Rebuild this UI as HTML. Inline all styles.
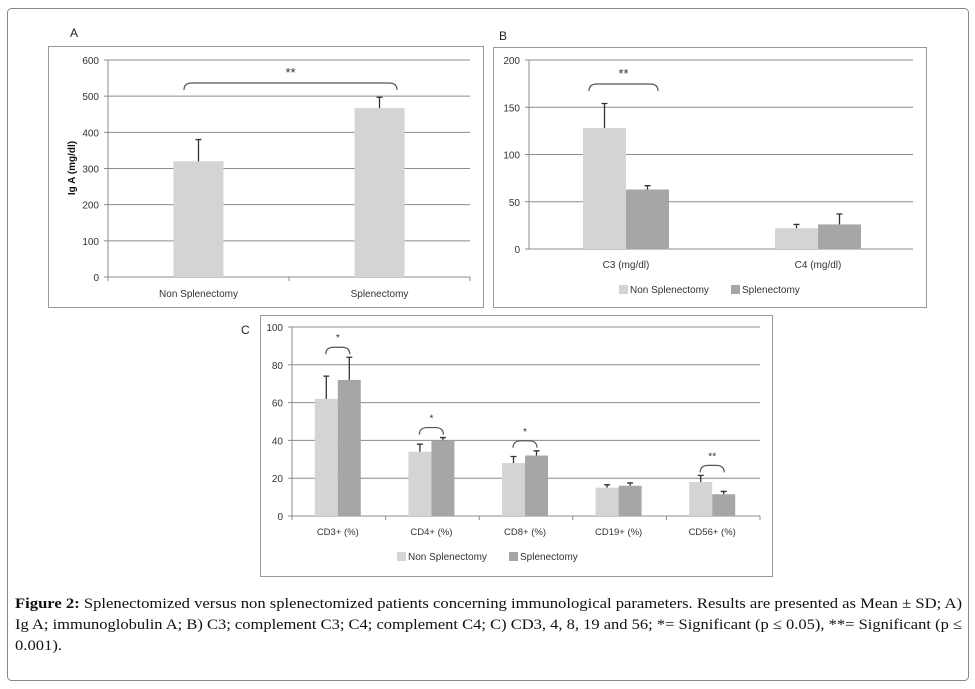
<!DOCTYPE html>
<html><head><meta charset="utf-8"><style>
body{margin:0;background:#fff;}
svg{display:block;font-family:"Liberation Sans",sans-serif;}
</style></head><body>
<svg id="fig" width="975" height="689" viewBox="0 0 975 689">
<rect x="7.5" y="8.5" width="961" height="672" rx="4" fill="none" stroke="#888"/>
<g id="gA"></g>
<g id="gB"></g>
<g id="gC"></g>
<g font-family="'Liberation Serif',serif" font-size="15" fill="#111">
<text x="15" y="608" textLength="947" lengthAdjust="spacingAndGlyphs"><tspan font-weight="bold">Figure 2:</tspan> Splenectomized versus non splenectomized patients concerning immunological parameters. Results are presented as Mean ± SD; A)</text>
<text x="15" y="629" textLength="947" lengthAdjust="spacingAndGlyphs">Ig A; immunoglobulin A; B) C3; complement C3; C4; complement C4; C) CD3, 4, 8, 19 and 56; *= Significant (p ≤ 0.05), **= Significant (p ≤</text>
<text x="15" y="650" textLength="47" lengthAdjust="spacingAndGlyphs">0.001).</text>
</g>
</svg>
<script>
// Chart A data
const aCategories=["Non Splenectomy","Splenectomy"];
const aValues=[320,467];
const aErrors=[60,30];
const aTicks=[0,100,200,300,400,500,600];
// Chart B data
const bCategories=["C3 (mg/dl)","C4 (mg/dl)"];
const bNon=[128,22];
const bNonErr=[26,4];
const bSpl=[63,26];
const bSplErr=[4,11];
const bTicks=[0,50,100,150,200];
// Chart C data
const cCategories=["CD3+ (%)","CD4+ (%)","CD8+ (%)","CD19+ (%)","CD56+ (%)"];
const cNon=[62,34,28,15,18];
const cNonErr=[12,4,3.5,1.5,3.5];
const cSpl=[72,40,32,16,11.5];
const cSplErr=[12,1.5,2.5,1.5,1.5];
const cTicks=[0,20,40,60,80,100];
const cSig=["*","*","*","","**"];

const NS="http://www.w3.org/2000/svg";
function mk(p,tag,at,txt){const e=document.createElementNS(NS,tag);for(const k in at)e.setAttribute(k,at[k]);if(txt!==undefined)e.textContent=txt;p.appendChild(e);return e;}
const C1="#d4d4d4",C2="#a6a6a6",GRID="#8c8c8c",TXT="#333";

function axes(g,x0,x1,yTop,y0,max,ticks,ncat){
  const ys=v=>y0-(v/max)*(y0-yTop);
  ticks.forEach(t=>{
    if(t>0){const l=mk(g,'line',{x1:x0,x2:x1,y1:ys(t),y2:ys(t),stroke:GRID,'stroke-width':1});
    
    }
    const tx=mk(g,'text',{x:x0-9,y:ys(t)+4,'text-anchor':'end','font-size':10,fill:TXT},String(t));
    
    
    const tk=mk(g,'line',{x1:x0-4,x2:x0,y1:ys(t),y2:ys(t),stroke:GRID});
    
    
  });
  const ya=mk(g,'line',{x1:x0,x2:x0,y1:yTop,y2:y0,stroke:GRID});
  
  
  const xa=mk(g,'line',{x1:x0,x2:x1,y1:y0,y2:y0,stroke:GRID});
  
  
  if(ncat>0){
    const w=(x1-x0)/ncat;
    for(let i=0;i<=ncat;i++){const t=mk(g,'line',{x1:x0+i*w,x2:x0+i*w,y1:y0,y2:y0+4,stroke:GRID});
      
      }
  }
  return ys;
}
function bar(g,x,w,v,err,ys,y0,col,name){
  const r=mk(g,'rect',{x:x,y:ys(v),width:w,height:y0-ys(v),fill:col});
  
  
  const cx=x+w/2;
  const e=mk(g,'path',{d:`M${cx} ${ys(v)}V${ys(v+err)}M${cx-3} ${ys(v+err)}H${cx+3}`,stroke:'#333','stroke-width':1.3,fill:'none'});
  
  
}
function bracket(g,xa,xb,y,label,fs){
  const p=mk(g,'path',{d:`M${xa} ${y+7}Q${xa} ${y} ${xa+8} ${y}H${xb-8}Q${xb} ${y} ${xb} ${y+7}`,stroke:'#555',fill:'none','stroke-width':1.2});
  
  
  const t=mk(g,'text',{x:(xa+xb)/2,y:y-6,'text-anchor':'middle','font-size':fs,fill:'#333'},label);
  
  
}
function legend(g,x,y){
  const a=mk(g,'rect',{x:x,y:y-8,width:9,height:9,fill:C1});
  
  
  const at=mk(g,'text',{x:x+11,y:y,'font-size':10,fill:TXT},'Non Splenectomy');
  
  
  const b=mk(g,'rect',{x:x+112,y:y-8,width:9,height:9,fill:C2});
  
  
  const bt=mk(g,'text',{x:x+123,y:y,'font-size':10,fill:TXT},'Splenectomy');
  
  
}
function frame(g,x,y,w,h,name){const r=mk(g,'rect',{x:x+.5,y:y+.5,width:w,height:h,fill:'none',stroke:'#999'});
  
  }
function panelLabel(g,x,y,s){const t=mk(g,'text',{x:x,y:y,'font-size':12,fill:'#222'},s);
  
  }

// Chart A
(function(){
  const g=document.getElementById('gA');
  panelLabel(g,70,37,'A');
  frame(g,48,46,435,261,'chart-a-frame');
  const x0=108,x1=470,y0=277,yT=60;
  const ys=axes(g,x0,x1,yT,y0,600,aTicks,aCategories.length);
  const w=(x1-x0)/aCategories.length;
  aCategories.forEach((c,i)=>{
    const cx=x0+w*(i+0.5);
    bar(g,cx-25,50,aValues[i],aErrors[i],ys,y0,C1,'bar-a-'+i);
    const t=mk(g,'text',{x:cx,y:297,'text-anchor':'middle','font-size':10,fill:TXT},c);
    
    
  });
  bracket(g,184,397,83,'**',13);
  const yl=mk(g,'text',{x:0,y:0,transform:'translate(75,168) rotate(-90)','text-anchor':'middle','font-size':10,'font-weight':'bold',fill:'#111'},'Ig A (mg/dl)');
  
  
})();

// Chart B
(function(){
  const g=document.getElementById('gB');
  panelLabel(g,499,40,'B');
  frame(g,493,47,433,260,'chart-b-frame');
  const x0=529,x1=913,y0=249,yT=60;
  const ys=axes(g,x0,x1,yT,y0,200,bTicks,0);
  const w=(x1-x0)/bCategories.length;
  bCategories.forEach((c,i)=>{
    const cx=x0+w*(i+0.5)+1;
    bar(g,cx-43,43,bNon[i],bNonErr[i],ys,y0,C1,'bar-b-non-'+i);
    bar(g,cx,43,bSpl[i],bSplErr[i],ys,y0,C2,'bar-b-spl-'+i);
    const t=mk(g,'text',{x:cx,y:268,'text-anchor':'middle','font-size':10,fill:TXT},c);
    
    
  });
  bracket(g,589,658,84,'**',13);
  legend(g,619,293);
})();

// Chart C
(function(){
  const g=document.getElementById('gC');
  panelLabel(g,241,334,'C');
  frame(g,260,315,512,261,'chart-c-frame');
  const x0=292,x1=760,y0=516,yT=327;
  const ys=axes(g,x0,x1,yT,y0,100,cTicks,cCategories.length);
  const w=(x1-x0)/cCategories.length;
  cCategories.forEach((c,i)=>{
    const cx=x0+w*(i+0.5)-1;
    bar(g,cx-23,23,cNon[i],cNonErr[i],ys,y0,C1,'bar-c-non-'+i);
    bar(g,cx,23,cSpl[i],cSplErr[i],ys,y0,C2,'bar-c-spl-'+i);
    const t=mk(g,'text',{x:cx,y:535,'text-anchor':'middle','font-size':9.5,fill:TXT},c);
    
    
    if(cSig[i]){
      const top=Math.max(cNon[i]+cNonErr[i],cSpl[i]+cSplErr[i]);
      bracket(g,cx-12,cx+12,ys(top)-10,cSig[i],10);
    }
  });
  legend(g,397,560);
})();
</script>
</body></html>
